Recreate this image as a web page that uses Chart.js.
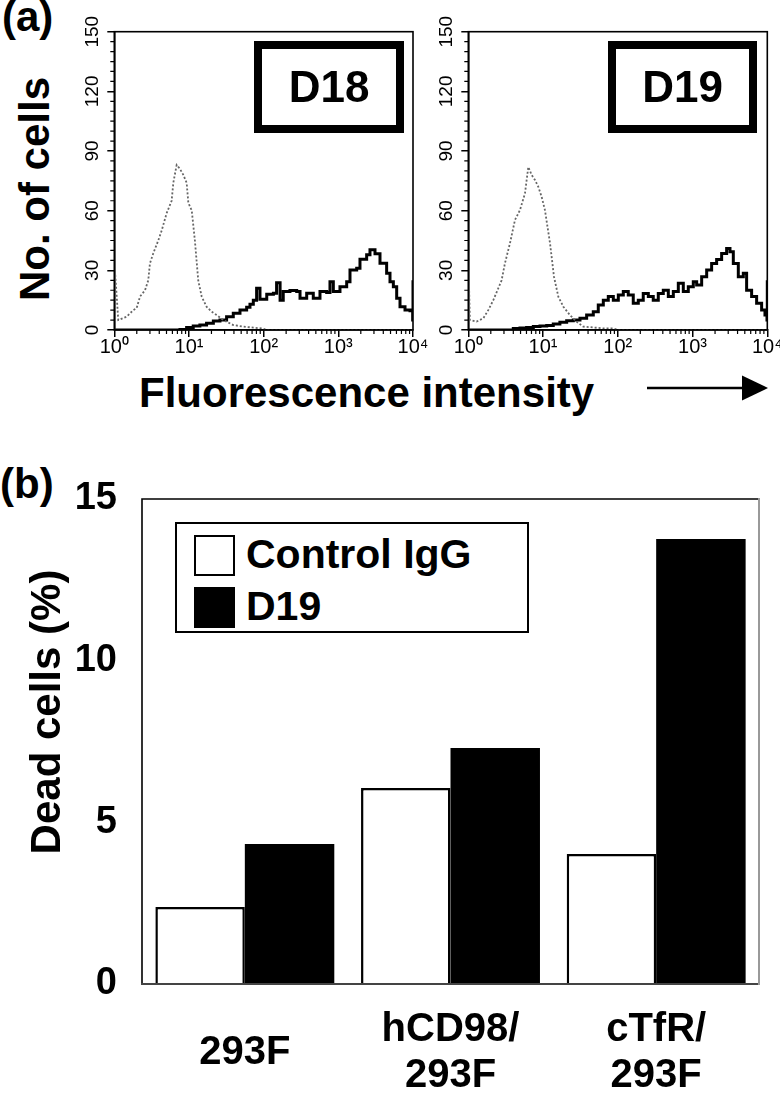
<!DOCTYPE html>
<html>
<head>
<meta charset="utf-8">
<script src="https://cdn.jsdelivr.net/npm/chart.js@4.4.1/dist/chart.umd.min.js"></script>
<style>
  html, body { margin:0; padding:0; background:#fff; }
  body { width:780px; height:1094px; overflow:hidden; position:relative; font-family:"Liberation Sans", Arial, sans-serif; color:#000; }
  .abs { position:absolute; }
  canvas { position:absolute; display:block; }
  .txt { font-weight:bold; white-space:nowrap; }
  .rot { text-align:center; transform:rotate(-90deg); }
  .tag { box-sizing:border-box; border:8px solid #000; display:flex; align-items:center; justify-content:center; font-weight:bold; font-size:44px; line-height:44px; }
  #legendB { box-sizing:border-box; border:2px solid #000; background:#fff; left:175px; top:522px; width:354px; height:111px; }
  .sw { position:absolute; box-sizing:border-box; border:2px solid #000; width:41px; height:41px; }
  .lt { position:absolute; font-weight:bold; font-size:41px; line-height:41px; white-space:nowrap; }
</style>
</head>
<body>
<div class="abs txt" style="left:2px; top:-4px; font-size:42px; line-height:42px;">(a)</div>
<div class="abs txt" style="left:0px; top:463px; font-size:42px; line-height:42px;">(b)</div>

<div class="abs txt rot" style="left:-114.6px; top:167.5px; width:300px; height:42px; font-size:42px; line-height:42px;">No. of cells</div>
<div class="abs txt" style="left:139px; top:372px; font-size:42px; line-height:42px;">Fluorescence intensity</div>
<svg class="abs" style="left:0; top:0;" width="780" height="1094">
  <line x1="647" y1="388" x2="746" y2="388" stroke="#000" stroke-width="2.5"/>
  <polygon points="742,375.5 768,388 742,400.5" fill="#000"/>
</svg>

<canvas id="histD18" width="370" height="370" style="left:60px; top:0px;"></canvas>
<canvas id="histD19" width="380" height="370" style="left:414px; top:0px;"></canvas>

<div class="abs tag" style="left:254px; top:41px; width:150px; height:92px;">D18</div>
<div class="abs tag" style="left:608px; top:41px; width:149px; height:92px;">D19</div>

<canvas id="barChart" width="780" height="624" style="left:0px; top:470px;"></canvas>
<div class="abs txt rot" style="left:-103.6px; top:691px; width:300px; height:42px; font-size:42px; line-height:42px;">Dead cells (%)</div>
<div class="abs" id="legendB"></div>

<script>
// ---------------- DATA ----------------
// (a) histogram tick values / labels
const decadeTicks = [1, 10, 100, 1000, 10000];
const decadeLabels = ['10\u2070', '10\u00B9', '10\u00B2', '10\u00B3', '10\u2074'];

// D18 panel: control (dotted grey) and antibody (solid black) histograms
const d18ControlX = [1, 1, 1.13, 1.46, 1.80, 1.99, 2.21, 2.58, 2.85, 3.00, 3.33, 3.88, 4.31, 5.02, 5.86, 6.17, 6.84, 7.57, 8.40, 9.31, 9.80, 10.9, 12.0, 13.3, 14.8, 17.2, 20.1, 23.5, 28.8, 39.2, 53.4, 72.7, 99, 110, 10000];
const d18ControlY = [0, 35, 5, 6.7, 10, 11, 16.8, 20, 25, 33.5, 38.6, 45, 50, 58.7, 65, 74, 83, 81, 78, 74, 64, 60, 45, 25, 16.8, 11.7, 9.2, 7.5, 5, 2.5, 1.7, 1.2, 0.7, 0, 0];
const d18AbX = [1, 3.8, 7.58, 9.30, 11.4, 14.0, 17.2, 21.2, 26.0, 31.9, 39.2, 48.2, 59.2, 65.6, 72.7, 80.5, 89.3, 110, 135, 149, 166, 183, 225, 277, 307, 377, 462, 568, 698, 773, 857, 1052, 1294, 1433, 1761, 1950, 2395, 2654, 3098, 3614, 4436, 4920, 5455, 6046, 6699, 7816, 9114, 9900, 10000];
const d18AbY = [0, 0, 0.3, 1.3, 2, 2.5, 3.4, 4.5, 5, 6.7, 8.4, 10, 11.4, 13, 15, 21, 15.4, 18, 18.5, 23.8, 15, 19.3, 19.8, 19.3, 16, 18.5, 16, 19.3, 18.8, 24.3, 19.3, 21.8, 24.3, 30.2, 31, 35.6, 37.8, 40.3, 38.3, 33.6, 28.5, 24.3, 21.8, 16, 11.7, 10, 9.7, 5, 25];

// D19 panel
const d19ControlX = [1, 1, 1.05, 1.29, 1.59, 1.85, 2.16, 2.52, 2.79, 3.09, 3.61, 4.21, 4.91, 5.73, 6.35, 7.03, 7.80, 8.64, 9.57, 10.6, 12.4, 14.0, 16.0, 18.7, 22.9, 28.1, 34.5, 47.0, 64.0, 87.1, 101, 10000];
const d19ControlY = [0, 37, 5, 4.2, 5.9, 10, 15, 21, 25, 33.5, 43.6, 55.3, 60.3, 68.7, 82, 78, 75.4, 72, 67, 60.3, 43.6, 26.8, 16.8, 11.7, 7.5, 4.2, 1.7, 1.3, 0.8, 0.8, 0, 0];
const d19AbX = [1, 3.80, 4.00, 4.91, 6.03, 7.41, 9.10, 11.2, 13.7, 16.8, 20.7, 25.4, 31.2, 38.3, 47.0, 54.8, 64.0, 74.6, 87.1, 101.6, 118.5, 138, 161, 188, 219, 256, 298, 348, 406, 474, 553, 645, 752, 877, 1023, 1135, 1324, 1545, 1800, 2100, 2450, 2858, 3168, 3510, 4094, 4776, 5289, 6170, 7198, 8398, 9307, 9900, 10000];
const d19AbY = [0, 0, 0.7, 1, 1.3, 1.7, 2, 2.3, 3, 3.9, 4.7, 5, 5.9, 7.5, 9.2, 12.6, 15, 16.8, 15, 17.6, 19.3, 17.6, 13.4, 15, 18.4, 16.8, 15, 18.4, 20, 16.8, 19.3, 23.5, 19.3, 21.8, 24.3, 22.6, 26.8, 30.2, 33.5, 35.5, 38.5, 41, 39.4, 33.5, 26.8, 28.5, 20, 16.8, 13.4, 10, 7.5, 5, 25];

// (b) bar chart
const barCategories = ['293F', ['hCD98/', '293F'], ['cTfR/', '293F']];
const controlIgG = [2.38, 6.06, 4.02];
const d19Dead = [4.33, 7.30, 13.76];
const seriesNames = ['Control IgG', 'D19'];

// ---------------- RENDER ----------------
Chart.defaults.font.family = "'Liberation Sans', Arial, sans-serif";
Chart.defaults.color = '#000';

function zip(xs, ys) { return xs.map((x, i) => ({ x: x, y: ys[i] })); }

const histDecor = {
  id: 'histDecor',
  afterDraw(chart) {
    const { ctx, chartArea: a, scales } = chart;
    ctx.save();
    ctx.strokeStyle = '#000';
    ctx.lineWidth = 1.2;
    ctx.beginPath();
    for (let k = 0; k < decadeTicks.length - 1; k++) {
      for (let m = 2; m <= 9; m++) {
        const px = scales.x.getPixelForValue(m * decadeTicks[k]);
        ctx.moveTo(px, a.bottom); ctx.lineTo(px, a.bottom + 4);
      }
    }
    for (let v = 5; v < 150; v += 5) {
      if (v % 30 === 0) continue;
      const py = scales.y.getPixelForValue(v);
      ctx.moveTo(a.left - 4, py); ctx.lineTo(a.left, py);
    }
    ctx.stroke();
    ctx.lineWidth = 1.6;
    ctx.strokeRect(a.left, a.top, a.right - a.left, a.bottom - a.top);
    ctx.restore();
  }
};

function makeHist(id, cx, cy, ax, ay, padRight) {
  return new Chart(document.getElementById(id), {
    type: 'line',
    data: {
      datasets: [
        { label: 'Control', data: zip(cx, cy), borderColor: '#666666', borderWidth: 1.8, borderDash: [2, 2], pointRadius: 0, tension: 0, fill: false },
        { label: 'Antibody', data: zip(ax, ay), borderColor: '#000', borderWidth: 3, pointRadius: 0, stepped: true, fill: false }
      ]
    },
    options: {
      responsive: false, animation: false, devicePixelRatio: 1,
      layout: { padding: { top: 31.7, right: padRight, left: 0, bottom: 0 } },
      plugins: { legend: { display: false }, tooltip: { enabled: false } },
      scales: {
        x: {
          type: 'logarithmic', min: 1, max: 10000,
          afterBuildTicks: (s) => { s.ticks = decadeTicks.map(v => ({ value: v, major: true })); },
          afterFit: (s) => { s.height = 40; },
          ticks: { callback: (v, i) => decadeLabels[i], autoSkip: false, maxRotation: 0, minRotation: 0, padding: -2, font: { size: 20 }, color: '#000' },
          grid: { display: true, drawOnChartArea: false, drawTicks: true, tickLength: 7, color: '#000', lineWidth: 1.5 },
          border: { display: true, color: '#000', width: 1.6 }
        },
        y: {
          min: 0, max: 150,
          afterFit: (s) => { s.width = 54.3; },
          ticks: { stepSize: 30, minRotation: 90, maxRotation: 90, crossAlign: 'center', padding: -1, font: { size: 19 }, color: '#000' },
          grid: { display: true, drawOnChartArea: false, drawTicks: true, tickLength: 7, color: '#000', lineWidth: 1.5 },
          border: { display: true, color: '#000', width: 1.6 }
        }
      }
    },
    plugins: [histDecor]
  });
}

makeHist('histD18', d18ControlX, d18ControlY, d18AbX, d18AbY, 17);
makeHist('histD19', d19ControlX, d19ControlY, d19AbX, d19AbY, 26.7);

const barFrame = {
  id: 'barFrame',
  afterDraw(chart) {
    const { ctx, chartArea: a } = chart;
    ctx.save();
    ctx.lineCap = 'square';
    ctx.lineWidth = 1.6; ctx.strokeStyle = '#000';
    ctx.beginPath(); ctx.moveTo(a.left, a.bottom); ctx.lineTo(a.left, a.top); ctx.lineTo(a.right, a.top); ctx.stroke();
    ctx.lineWidth = 2; ctx.strokeStyle = '#444';
    ctx.beginPath(); ctx.moveTo(a.left, a.bottom); ctx.lineTo(a.right, a.bottom); ctx.stroke();
    ctx.strokeStyle = '#999';
    ctx.beginPath(); ctx.moveTo(a.right, a.top); ctx.lineTo(a.right, a.bottom); ctx.stroke();
    ctx.restore();
  }
};

const barChart = new Chart(document.getElementById('barChart'), {
  type: 'bar',
  data: {
    labels: barCategories,
    datasets: [
      { label: seriesNames[0], data: controlIgG, backgroundColor: '#ffffff', borderColor: '#000000', borderWidth: 2.5 },
      { label: seriesNames[1], data: d19Dead, backgroundColor: '#000000', borderColor: '#000000', borderWidth: 0 }
    ]
  },
  options: {
    responsive: false, animation: false, devicePixelRatio: 1,
    layout: { padding: { top: 29, right: 21, left: 0, bottom: 0 } },
    datasets: { bar: { categoryPercentage: 0.87, barPercentage: 1.0 } },
    plugins: { legend: { display: false }, tooltip: { enabled: false } },
    scales: {
      x: {
        afterFit: (s) => { s.height = 110; },
        grid: { display: false }, border: { display: false },
        ticks: { autoSkip: false, maxRotation: 0, crossAlign: 'center', padding: 38, color: '#000', font: { size: 40, weight: 'bold', lineHeight: 1.15 } }
      },
      y: {
        min: 0, max: 15,
        afterFit: (s) => { s.width = 142; },
        grid: { display: true, drawOnChartArea: false, drawTicks: true, tickLength: 25, tickColor: 'rgba(0,0,0,0)' },
        border: { display: false },
        ticks: { stepSize: 5, padding: 0, color: '#000', font: { size: 38, weight: 'bold' } }
      }
    }
  },
  plugins: [barFrame]
});

// HTML legend built from the chart's datasets
(function buildLegend() {
  const box = document.getElementById('legendB');
  barChart.data.datasets.forEach((ds, i) => {
    const sw = document.createElement('div');
    sw.className = 'sw';
    sw.style.left = '17px';
    sw.style.top = (11 + i * 52) + 'px';
    sw.style.background = ds.backgroundColor;
    box.appendChild(sw);
    const t = document.createElement('div');
    t.className = 'lt';
    t.style.left = '69px';
    t.style.top = (10 + i * 52) + 'px';
    t.textContent = ds.label;
    box.appendChild(t);
  });
})();
</script>
</body>
</html>
